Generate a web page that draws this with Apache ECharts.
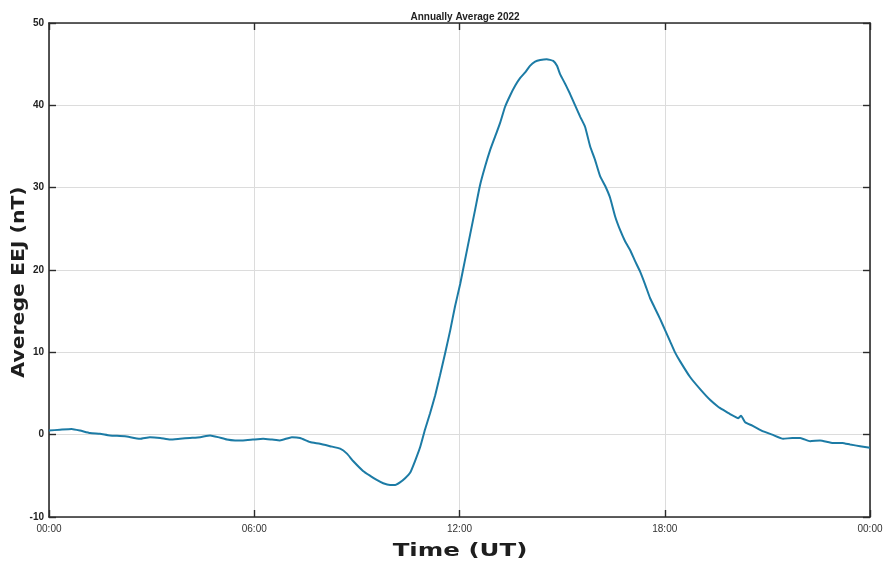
<!DOCTYPE html>
<html>
<head>
<meta charset="utf-8">
<script src="https://cdn.jsdelivr.net/npm/echarts@6/dist/echarts.min.js"></script>
<style>
  html, body { margin: 0; padding: 0; background: #fff; }
  #chart { width: 887px; height: 566px; }
</style>
</head>
<body>
<div id="chart"></div>
<script>
// Time of day in hours (UT)
const hours = [
  0.00, 0.32, 0.66, 0.91, 1.20, 1.49, 1.78, 2.22, 2.66, 2.95,
  3.25, 3.54, 3.83, 4.12, 4.42, 4.71, 4.94, 5.20, 5.44, 5.67,
  5.96, 6.26, 6.52, 6.75, 7.10, 7.34, 7.63, 7.92, 8.22, 8.51,
  8.71, 8.89, 9.18, 9.39, 9.58, 9.77, 9.97, 10.12, 10.26, 10.41,
  10.56, 10.70, 10.85, 10.99, 11.14, 11.29, 11.43, 11.58, 11.73, 11.87,
  12.02, 12.16, 12.31, 12.46, 12.60, 12.75, 12.89, 13.04, 13.19, 13.33,
  13.48, 13.63, 13.77, 13.92, 14.06, 14.21, 14.36, 14.55, 14.74, 14.85,
  14.94, 15.09, 15.23, 15.38, 15.53, 15.67, 15.82, 15.96, 16.11, 16.26,
  16.40, 16.55, 16.70, 16.84, 16.99, 17.13, 17.28, 17.43, 17.57, 17.72,
  17.87, 18.01, 18.16, 18.30, 18.45, 18.74, 19.04, 19.33, 19.56, 19.71,
  19.91, 20.15, 20.23, 20.35, 20.56, 20.88, 21.14, 21.46, 21.73, 21.96,
  22.25, 22.54, 22.92, 23.19, 23.42, 23.71, 24.00
];

// Average equatorial electrojet strength (nT)
const eej = [
  0.5, 0.6, 0.7, 0.5, 0.2, 0.1, -0.1, -0.2, -0.5, -0.3,
  -0.4, -0.6, -0.5, -0.4, -0.3, -0.1, -0.3, -0.6, -0.7, -0.7,
  -0.6, -0.5, -0.6, -0.7, -0.3, -0.4, -0.9, -1.1, -1.4, -1.7,
  -2.3, -3.2, -4.4, -5.0, -5.5, -5.9, -6.1, -6.1, -5.8, -5.3,
  -4.6, -3.2, -1.5, 0.6, 2.6, 4.8, 7.2, 9.9, 12.7, 15.6,
  18.3, 21.2, 24.3, 27.4, 30.3, 32.6, 34.5, 36.2, 37.9, 39.8,
  41.2, 42.4, 43.3, 44.0, 44.8, 45.3, 45.5, 45.6, 45.4, 44.8,
  43.8, 42.6, 41.4, 40.0, 38.6, 37.4, 35.0, 33.4, 31.4, 30.2,
  28.8, 26.5, 24.8, 23.5, 22.4, 21.1, 19.8, 18.2, 16.6, 15.3,
  14.0, 12.7, 11.3, 10.0, 8.9, 7.0, 5.5, 4.2, 3.4, 3.0,
  2.5, 2.0, 2.3, 1.5, 1.1, 0.4, 0.0, -0.5, -0.4, -0.4,
  -0.8, -0.7, -1.0, -1.0, -1.2, -1.4, -1.6
];

// Tick labels along the time axis, every 6 hours
const timeTicks = ['00:00', '06:00', '12:00', '18:00', '00:00'];

const chartTitle = 'Annually Average 2022';
const xName = 'Time (UT)';
const yName = 'Averege EEJ (nT)';

const points = hours.map((h, i) => [h, eej[i]]);

const axisLineStyle = { color: '#2b2b2b', width: 1.6 };
const tickStyle = { show: true, inside: true, length: 7, lineStyle: { color: '#2b2b2b', width: 1.4 } };
const gridLine = { show: true, lineStyle: { color: '#dcdcdc', width: 1 } };
const nameFont = '"DejaVu Sans", sans-serif';

const chart = echarts.init(document.getElementById('chart'), null, { renderer: 'canvas' });
chart.setOption({
  animation: false,
  backgroundColor: '#ffffff',
  title: {
    text: chartTitle,
    left: 460,
    textAlign: 'center',
    top: 7,
    textStyle: {
      fontFamily: '"Liberation Sans Narrow", "Liberation Sans", Arial, sans-serif',
      fontSize: 10,
      fontWeight: 'bold',
      color: '#222'
    }
  },
  grid: { left: 49, right: 17, top: 23, bottom: 49, containLabel: false, outerBoundsMode: 'none' },
  // Wide, heavy axis titles drawn as stretched text
  graphic: [
    {
      type: 'text',
      x: 460, y: 551,
      scaleX: 1.36,
      style: {
        text: xName,
        x: 0, y: 0,
        align: 'center',
        verticalAlign: 'middle',
        font: 'bold 18px ' + nameFont,
        fill: '#1e1e1e'
      }
    },
    {
      type: 'text',
      x: 20, y: 282,
      rotation: Math.PI / 2,
      scaleX: 1.2,
      style: {
        text: yName,
        x: 0, y: 0,
        align: 'center',
        verticalAlign: 'middle',
        font: 'bold 17px ' + nameFont,
        fill: '#1e1e1e'
      }
    }
  ],
  xAxis: [
    {
      type: 'value',
      min: 0, max: 24, interval: 6,
      axisLine: { show: true, onZero: false, lineStyle: axisLineStyle },
      axisTick: tickStyle,
      axisLabel: {
        margin: 7,
        fontFamily: '"Liberation Sans", Arial, sans-serif',
        fontSize: 10,
        color: '#333',
        formatter: v => timeTicks[Math.round(v / 6)]
      },
      splitLine: gridLine
    },
    {
      type: 'value', position: 'top',
      min: 0, max: 24, interval: 6,
      axisLine: { show: true, onZero: false, lineStyle: axisLineStyle },
      axisTick: tickStyle,
      axisLabel: { show: false },
      splitLine: { show: false }
    }
  ],
  yAxis: [
    {
      type: 'value',
      min: -10, max: 50, interval: 10,
      axisLine: { show: true, onZero: false, lineStyle: axisLineStyle },
      axisTick: tickStyle,
      axisLabel: {
        margin: 5,
        fontFamily: '"Liberation Sans", Arial, sans-serif',
        fontSize: 10,
        fontWeight: 'bold',
        color: '#222'
      },
      splitLine: gridLine
    },
    {
      type: 'value', position: 'right',
      min: -10, max: 50, interval: 10,
      axisLine: { show: true, onZero: false, lineStyle: axisLineStyle },
      axisTick: tickStyle,
      axisLabel: { show: false },
      splitLine: { show: false }
    }
  ],
  series: [
    {
      type: 'line',
      xAxisIndex: 0,
      yAxisIndex: 0,
      data: points,
      showSymbol: false,
      smooth: 0.15,
      lineStyle: { color: '#1c7ba5', width: 2 }
    }
  ]
});
</script>
</body>
</html>
